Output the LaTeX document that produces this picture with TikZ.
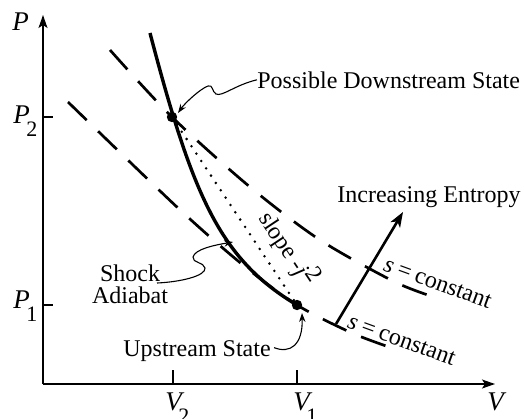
\documentclass[tikz,border=0pt]{standalone}
\usepackage{fontspec}
\setmainfont{Liberation Serif}
\usetikzlibrary{arrows.meta}
\newcommand{\mlab}[2]{{\fontsize{13.5}{13.5}\selectfont\itshape #1}\kern-1.8pt\raisebox{-6.5pt}{\fontsize{11}{11}\selectfont #2}}
\newcommand{\sconst}{\textit{s}\kern2.5pt=\kern2.5pt constant}
\begin{document}
\begin{tikzpicture}[x=0.5pt,y=-0.5pt,font=\fontsize{12}{11}\selectfont,
  axisline/.style={line width=0.65pt,-{Stealth[length=6.5pt,width=4.5pt,inset=1.5pt]}},
  tickline/.style={line width=0.6pt},
  adiabat/.style={line width=1.7pt},
  isentrope/.style={line width=1.35pt,dash pattern=on 13pt off 8pt},
  rayleigh/.style={line width=1.4pt,line cap=round,dash pattern=on 0pt off 4.4pt},
  pointer/.style={line width=0.55pt,-{Stealth[length=4.5pt,width=3.2pt]}},
  entarrow/.style={line width=1.3pt,-{Stealth[length=7.5pt,width=5.5pt,inset=2pt]}},
  lbl/.style={inner sep=0pt}]
\useasboundingbox (0,0) rectangle (524,418);
% coordinates
\coordinate (O) at (43,384);
\coordinate (ytop) at (43,15);
\coordinate (xend) at (495,384);
\coordinate (d2) at (172,117);
\coordinate (d1) at (297,305);
% axes
\draw[axisline] (O) -- (ytop);
\draw[axisline] (O) -- (xend);
\draw[tickline] (43,117) -- (53,117);
\draw[tickline] (43,305) -- (53,305);
\draw[tickline] (173,384) -- (173,370);
\draw[tickline] (297,384) -- (297,370);
% axis labels
\node[lbl,anchor=base west] (lP) at (12,30) {\mlab{P}{}};
\node[lbl,anchor=base west] (lP2) at (13,123) {\mlab{P}{2}};
\node[lbl,anchor=base west] (lP1) at (13,308) {\mlab{P}{1}};
\node[lbl,anchor=base west] (lV) at (487,410) {\mlab{V}{}};
\node[lbl,anchor=base west] (lV2) at (165,410) {\mlab{V}{2}};
\node[lbl,anchor=base west] (lV1) at (293,410) {\mlab{V}{1}};
% isentropes
\draw[isentrope] plot[smooth] coordinates {(110,50) (172,117) (250,187) (320,240) (395,282) (437,298)};
\draw[isentrope] plot[smooth] coordinates {(68,102) (178,208) (243,265) (297,305) (352,333) (392,348)};
% shock adiabat
\draw[adiabat] (150,33) .. controls (193,197) and (220,259) .. (d1);
% Rayleigh line
\draw[rayleigh] (d2) -- (d1);
\fill (d2) circle (2.6pt);
\fill (d1) circle (2.6pt);
\node[lbl,rotate=-56.4] (slope) at (289,248) {slope -\textit{j}\raisebox{4pt}{2}};
% s = constant labels
\node[lbl,anchor=base west,rotate=-20] (sc2) at (382,270) {\sconst};
\node[lbl,anchor=base west,rotate=-20] (sc1) at (346,327) {\sconst};
% entropy arrow
\coordinate (es) at (336,324);
\coordinate (et) at (403,212);
\draw[entarrow] (es) -- (et);
\node[lbl,anchor=base west] (ie) at (337,202) {Increasing Entropy};
% annotations
\node[lbl,anchor=base west] (pds) at (257,88) {Possible Downstream State};
\node[lbl,anchor=base west] (ups) at (123,356) {Upstream State};
\node[lbl,align=center] (sa) at (130,284) {Shock\\Adiabat};
\coordinate (sas) at (157,283);
\coordinate (t2) at (178,113);
\coordinate (tsa) at (233,242);
\coordinate (t1) at (302,313);
\draw[pointer] (pds.west) .. controls (235,85) and (222,97) .. (216,94) .. controls (212,92) and (213,84) .. (208,86) .. controls (200,89) and (185,103) .. (t2);
\draw[pointer] (sas) .. controls (180,282) and (206,276) .. (205,268) .. controls (204,262) and (192,263) .. (193,257) .. controls (195,249) and (215,245) .. (tsa);
\draw[pointer] (ups.east) ++(3,-3) .. controls (290,354) and (303,345) .. (t1);
\end{tikzpicture}
\end{document}
